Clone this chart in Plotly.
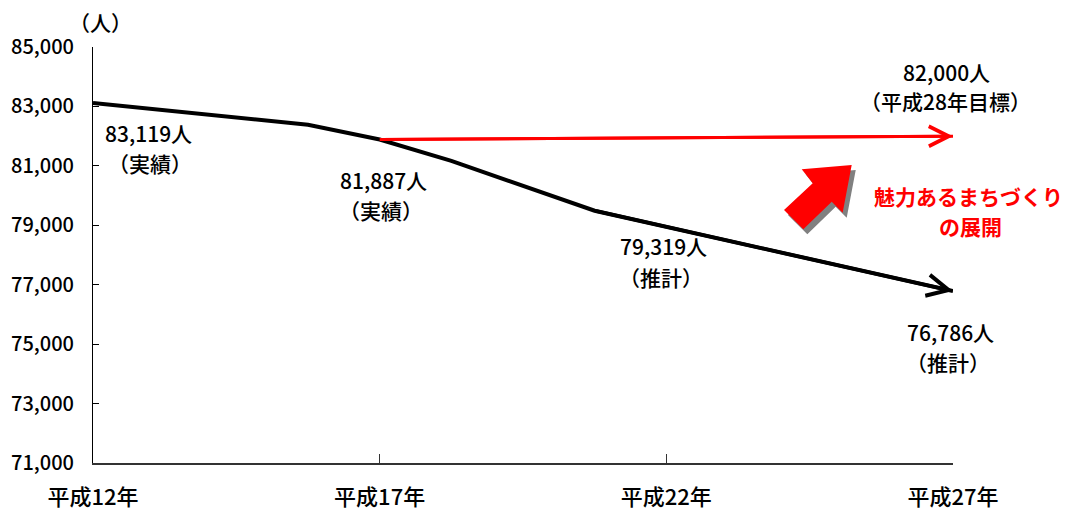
import plotly.graph_objects as go

# ---- data ----
tick_years = [12, 17, 22, 27]
tick_labels = ["平成12年", "平成17年", "平成22年", "平成27年"]

trend_years = [12, 15.75, 17, 18.25, 20.75, 27]
trend_values = [83119, 82380, 81887, 81166, 79490, 76786]

# target line
target_years = [17, 27]
target_values = [81887, 82000]

# labelled points
label_years = [12, 17, 22, 27]
label_values = [83119, 81887, 79319, 76786]
label_kinds = ["（実績）", "（実績）", "（推計）", "（推計）"]

target_label = "82,000人"
target_note = "（平成28年目標）"
slogan = ["魅力あるまちづくり", "の展開"]

FONT = "Noto Sans CJK JP"

OFF = 8  # page margin around the figure
W, H = 1072 - OFF, 511 - OFF
ML, MT = 93 - OFF, 47 - OFF
MR = W - (953 - OFF)
MB = H - (463 - OFF)
PW, PH = W - ML - MR, H - MT - MB

def px(xp, yp):
    # screenshot pixel -> paper coords
    xp -= OFF
    yp -= OFF
    return ((xp - ML) / PW, (H - MB - yp) / PH)

fig = go.Figure()

fig.add_trace(go.Scatter(x=trend_years, y=trend_values, mode="lines",
                         line=dict(color="black", width=4), hoverinfo="skip"))
fig.add_trace(go.Scatter(x=target_years, y=target_values, mode="lines",
                         line=dict(color="#ff0000", width=3), hoverinfo="skip"))

ann = []
ann.append(dict(x=trend_years[-1], y=trend_values[-1], ax=trend_years[-2], ay=trend_values[-2],
                xref="x", yref="y", axref="x", ayref="y", text="", showarrow=True,
                arrowhead=5, arrowsize=1.2, arrowwidth=3.5, arrowcolor="black"))
ann.append(dict(x=target_years[-1], y=target_values[-1], ax=target_years[0], ay=target_values[0],
                xref="x", yref="y", axref="x", ayref="y", text="", showarrow=True,
                arrowhead=5, arrowsize=1.3, arrowwidth=3, arrowcolor="#ff0000"))

LF = dict(family=FONT, size=21, color="black", weight=500)

shifts = [(55, -30, 57, -60), (4, -40, 1, -70), (-3, -30, -5, -61), (-3, -41, -5, -71)]
for yr, v, kind, (dx1, dy1, dx2, dy2) in zip(label_years, label_values, label_kinds, shifts):
    ann.append(dict(x=yr, y=v, xref="x", yref="y", text=f"{v:,}人", showarrow=False,
                    xshift=dx1, yshift=dy1, font=LF))
    ann.append(dict(x=yr, y=v, xref="x", yref="y", text=kind, showarrow=False,
                    xshift=dx2, yshift=dy2, font=LF))

ann.append(dict(x=target_years[-1], y=target_values[-1], xref="x", yref="y", text=target_label,
                showarrow=False, xshift=-7, yshift=64, font=LF))
ann.append(dict(x=target_years[-1], y=target_values[-1], xref="x", yref="y", text=target_note,
                showarrow=False, xshift=-8, yshift=35, font=LF))

for t, (cx, cy) in zip(slogan, [(968, 196), (970, 226)]):
    xp, yp = px(cx, cy)
    ann.append(dict(x=xp, y=yp, xref="paper", yref="paper", text=f"<b>{t}</b>", showarrow=False,
                    xanchor="center", yanchor="middle",
                    font=dict(family=FONT, size=21, color="#ff0000")))

xp, yp = px(100, 22)
ann.append(dict(x=xp, y=yp, xref="paper", yref="paper", text="（人）", showarrow=False,
                xanchor="center", yanchor="middle", font=LF))

# big block arrow (decoration)
arrow_pts = [(801.7, 169.3), (851.7, 165), (842.7, 212.7), (831.7, 201.7),
             (803.3, 229.3), (784, 210), (812.7, 183.3)]

def path(pts, dx=0, dy=0):
    s = ""
    for i, (a, b) in enumerate(pts):
        xx, yy = px(a + dx, b + dy)
        s += ("M" if i == 0 else "L") + f"{xx:.4f},{yy:.4f}"
    return s + "Z"

shapes = [
    dict(type="path", xref="paper", yref="paper", path=path(arrow_pts, 4, 5),
         fillcolor="#808080", line=dict(width=0)),
    dict(type="path", xref="paper", yref="paper", path=path(arrow_pts),
         fillcolor="#ff0000", line=dict(width=0)),
]

fig.update_layout(
    width=W, height=H,
    margin=dict(l=ML, r=MR, t=MT, b=MB, autoexpand=False),
    paper_bgcolor="white", plot_bgcolor="white",
    showlegend=False,
    annotations=ann, shapes=shapes,
    xaxis=dict(range=[12, 27], tickvals=tick_years, ticktext=tick_labels, automargin=False,
               showgrid=False, zeroline=False, showline=True, linecolor="#333333", linewidth=1.5,
               ticks="inside", ticklen=9, tickcolor="#333333", ticklabelstandoff=14,
               tickfont=dict(family=FONT, size=22, color="black", weight=500)),
    yaxis=dict(range=[71000, 85000], dtick=2000, tick0=71000, tickformat=",d", automargin=False,
               showgrid=False, zeroline=False, showline=True, linecolor="black", linewidth=1,
               ticks="inside", ticklen=6, tickcolor="black", ticklabelstandoff=14,
               tickfont=dict(family=FONT, size=20, color="black", weight=500)),
)

fig.write_html("out.html")
